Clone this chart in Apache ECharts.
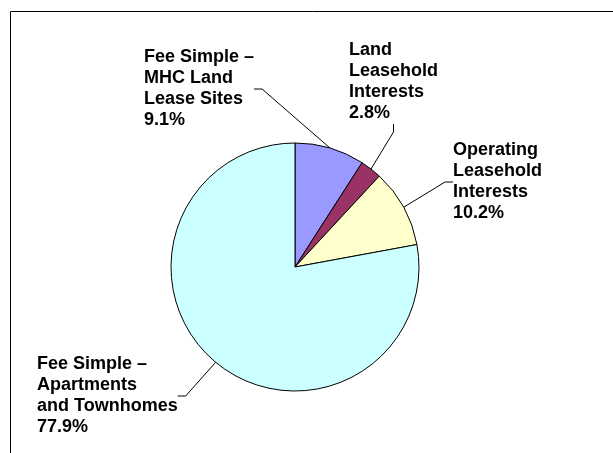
<!DOCTYPE html>
<html>
<head>
<meta charset="utf-8">
<script src="https://cdn.jsdelivr.net/npm/echarts@6/dist/echarts.min.js"></script>
<style>html,body{margin:0;padding:0;background:#fff;}#c{width:613px;height:453px;}</style>
</head>
<body>
<div id="c"></div>
<script>
const categories = [
  "Fee Simple –\nMHC Land\nLease Sites",
  "Land\nLeasehold\nInterests",
  "Operating\nLeasehold\nInterests",
  "Fee Simple –\nApartments\nand Townhomes"
];
const values = [9.1, 2.8, 10.2, 77.9];
const colors = ["#9999FF", "#993366", "#FFFFCC", "#CCFFFF"];
const labelPos = [[144, 47], [349, 40], [453, 140], [37, 354]];

const chart = echarts.init(document.getElementById('c'), null, {renderer: 'canvas'});
chart.setOption({
  animation: false,
  backgroundColor: '#fff',
  graphic: [{
    type: 'rect', silent: true, z: 0,
    shape: {x: 10.5, y: 11.5, width: 700, height: 600},
    style: {fill: null, stroke: '#000', lineWidth: 1}
  }],
  series: [{
    type: 'pie',
    center: [295, 267],
    radius: [0, 124],
    startAngle: 90,
    clockwise: true,
    avoidLabelOverlap: false,
    emphasis: {disabled: true},
    data: categories.map((n, i) => ({name: n, value: values[i], itemStyle: {color: colors[i]}})),
    itemStyle: {borderColor: '#000', borderWidth: 1},
    label: {
      show: true,
      position: 'outside',
      formatter: p => p.name + '\n' + p.value.toFixed(1) + '%',
      fontFamily: 'Liberation Sans, Arial, sans-serif',
      fontWeight: 'bold',
      fontSize: 18,
      lineHeight: 21,
      color: '#000',
      align: 'left'
    },
    labelLine: {
      show: true,
      length: 10,
      length2: 8,
      smooth: false,
      lineStyle: {color: '#000', width: 1}
    },
    labelLayout: function (params) {
      const p = labelPos[params.dataIndex];
      return {x: p[0], y: p[1], align: 'left', verticalAlign: 'top'};
    }
  }]
});
</script>
</body>
</html>
